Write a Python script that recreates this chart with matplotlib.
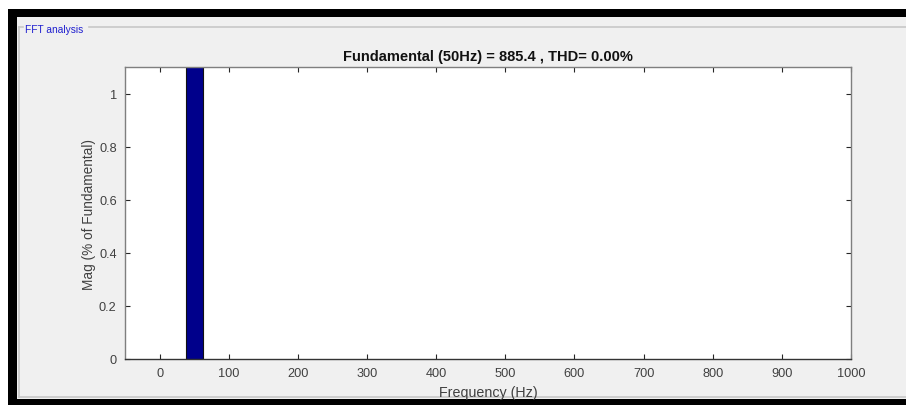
import matplotlib
matplotlib.use("Agg")
import matplotlib.pyplot as plt
from matplotlib.patches import Rectangle
from matplotlib.lines import Line2D

# data
freqs = [50]
mags = [100.0]          # % of fundamental, clipped by the y limit
xticks = [0, 100, 200, 300, 400, 500, 600, 700, 800, 900, 1000]
yticks = [0, 0.2, 0.4, 0.6, 0.8, 1.0]
ytick_labels = ["0", "0.2", "0.4", "0.6", "0.8", "1"]
fund_freq = 50
fund_mag = 885.4
thd = 0.00

W, H = 906, 406
plt.rcParams["font.family"] = ["Liberation Sans", "DejaVu Sans"]

fig = plt.figure(figsize=(W / 100, H / 100), dpi=100, facecolor="white")

def fx(x):
    return x / W

def fy(y):
    return 1 - y / H

# window frame: black border, grey panel (behind the axes)
fig.patches.append(Rectangle((fx(8), 0), 1, fy(10), transform=fig.transFigure,
                             facecolor="black", edgecolor="none", zorder=-10))
fig.patches.append(Rectangle((fx(17), fy(400)), 1, fy(18) - fy(400), transform=fig.transFigure,
                             facecolor="#f0f0f0", edgecolor="none", zorder=-9))

# group box "FFT analysis"
gb = "#c8c8c8"
fig.add_artist(Line2D([fx(19), fx(19)], [fy(28), fy(398)], color=gb, lw=1.2, zorder=-8))
fig.add_artist(Line2D([fx(19), fx(23)], [fy(28), fy(28)], color=gb, lw=1.2, zorder=-8))
fig.add_artist(Line2D([fx(89), 1], [fy(28), fy(28)], color=gb, lw=1.2, zorder=-8))
fig.add_artist(Line2D([fx(19), 1], [fy(398), fy(398)], color=gb, lw=1.2, zorder=-8))
fig.text(fx(25), fy(30), "FFT analysis", color="#1f1fcf", fontsize=7.3, va="center", ha="left")

ax = fig.add_axes([fx(125), fy(360), fx(851) - fx(125), fy(68) - fy(360)])
ax.set_facecolor("white")
ax.bar(freqs, mags, width=25, color="#00008b", edgecolor="#111111", linewidth=0.8)

ax.set_xlim(-50, 1000)
ax.set_ylim(0, 1.1)
ax.set_xticks(xticks)
ax.set_yticks(yticks)
ax.set_yticklabels(ytick_labels)
ax.tick_params(direction="in", length=3.8, width=0.8, colors="#262626",
               labelcolor="#404040", labelsize=9.2, top=True, right=True, pad=6)

for side in ["left", "top", "right"]:
    ax.spines[side].set_color("#7f7f7f")
ax.spines["bottom"].set_color("#333333")
for s in ax.spines.values():
    s.set_linewidth(1.0)

ax.set_xlabel("Frequency (Hz)", fontsize=10.3, color="#404040", labelpad=4)
ax.set_ylabel("Mag (% of Fundamental)", fontsize=9.8, color="#404040", labelpad=2)
ax.set_title(f"Fundamental ({fund_freq}Hz) = {fund_mag} , THD= {thd:.2f}%",
             fontsize=10.5, fontweight="bold", color="#111111", pad=5)

fig.savefig("out.png", dpi=100, facecolor=fig.get_facecolor())
